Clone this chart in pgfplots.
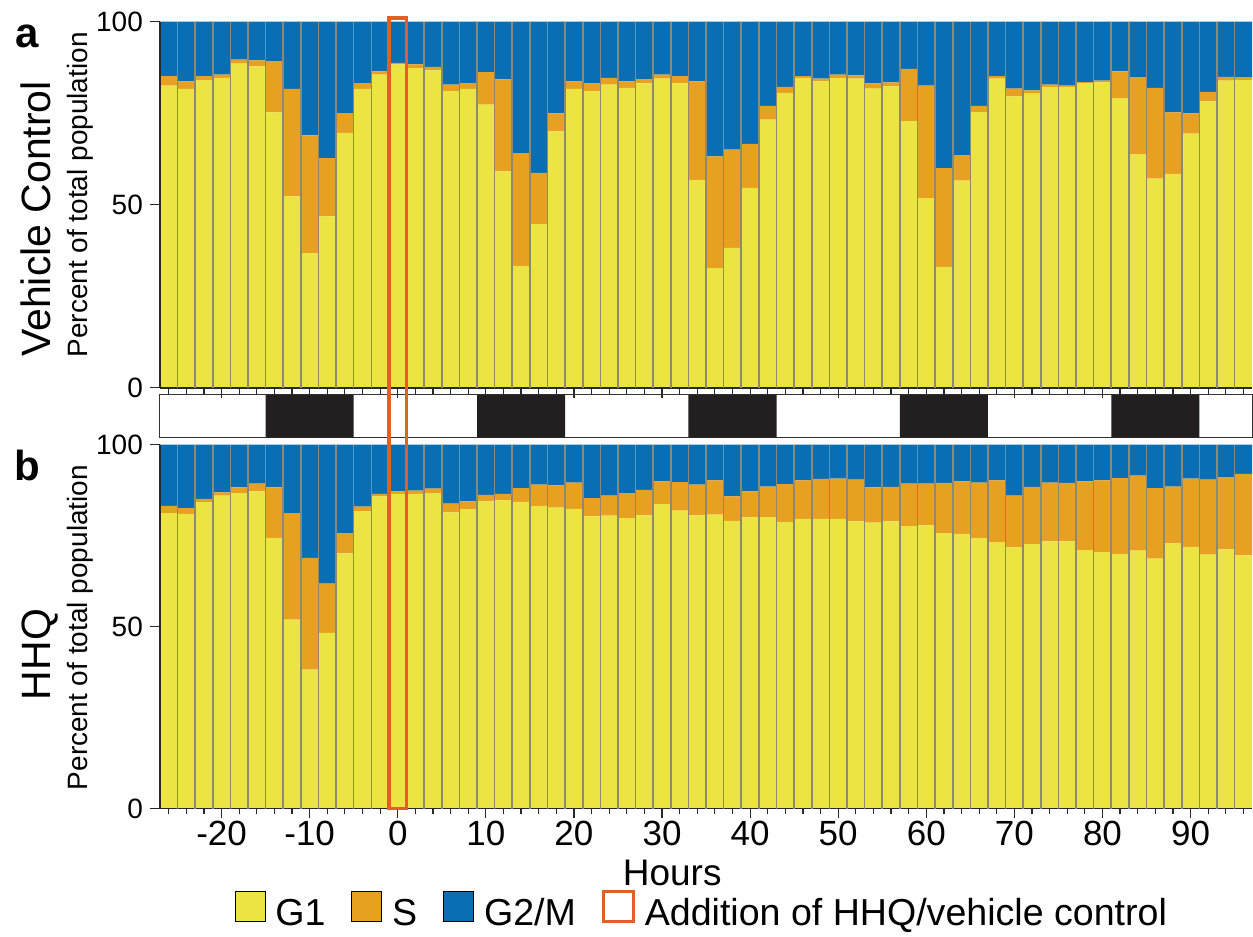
\documentclass[border=0pt]{standalone}
\usepackage{pgfplots}
\pgfplotsset{compat=1.18}
\usepackage{pgfplotstable}
\usepackage{fontspec}
\setmainfont{Liberation Sans}

\definecolor{cGone}{RGB}{236,228,66}
\definecolor{cS}{RGB}{232,160,34}
\definecolor{cGtwo}{RGB}{10,110,180}
\definecolor{cBox}{RGB}{224,96,40}
\definecolor{cSep}{RGB}{140,138,118}
\definecolor{cAx}{RGB}{40,40,40}
\definecolor{cDark}{RGB}{35,31,32}

% hours, G1, S, G2/M (percent of total population)
\pgfplotstableread{
h g1 s g2m
-26 82.5 2.6 14.9
-24 81.6 2.1 16.3
-22 84.0 1.1 14.9
-20 84.6 0.9 14.5
-18 88.5 1.1 10.4
-16 87.8 1.6 10.6
-14 75.2 14.0 10.8
-12 52.3 29.3 18.4
-10 36.8 32.1 31.1
-8 46.8 15.9 37.3
-6 69.6 5.4 25.0
-4 81.6 1.6 16.8
-2 85.5 0.9 13.6
0 88.3 0.4 11.3
2 87.3 1.0 11.7
4 86.7 0.9 12.4
6 81.0 1.8 17.2
8 81.6 1.6 16.8
10 77.3 8.9 13.8
12 59.1 25.1 15.8
14 33.3 30.8 35.9
16 44.7 14.0 41.3
18 70.0 4.9 25.1
20 81.6 2.1 16.3
22 81.0 2.2 16.8
24 82.8 1.8 15.4
26 81.9 1.8 16.3
28 83.1 1.2 15.7
30 84.4 1.1 14.5
32 83.2 1.9 14.9
34 56.8 26.9 16.3
36 32.7 30.5 36.8
38 38.2 26.8 35.0
40 54.6 12.0 33.4
42 73.2 3.8 23.0
44 80.5 1.7 17.8
46 84.6 0.5 14.9
48 83.7 0.7 15.6
50 84.6 0.9 14.5
52 84.4 0.9 14.7
54 81.7 1.4 16.9
56 82.3 1.1 16.6
58 72.8 14.3 12.9
60 51.8 30.7 17.5
62 33.0 27.0 40.0
64 56.6 6.9 36.5
66 75.3 1.7 23.0
68 84.4 0.7 14.9
70 79.6 2.1 18.3
72 80.3 0.9 18.8
74 82.2 0.6 17.2
76 82.2 0.3 17.5
78 83.2 0.3 16.5
80 83.4 0.5 16.1
82 79.1 7.3 13.6
84 63.8 21.0 15.2
86 57.1 24.8 18.1
88 58.4 16.8 24.8
90 69.4 5.5 25.1
92 78.2 2.6 19.2
94 83.9 1.0 15.1
96 84.0 0.8 15.2
}\vehicle

\pgfplotstableread{
h g1 s g2m
-26 81.2 2.0 16.8
-24 81.0 1.6 17.4
-22 84.2 0.9 14.9
-20 86.0 0.9 13.1
-18 86.7 1.6 11.7
-16 87.2 2.1 10.7
-14 74.4 13.9 11.7
-12 51.9 29.3 18.8
-10 38.2 30.7 31.1
-8 48.3 13.5 38.2
-6 70.1 5.6 24.3
-4 81.7 1.3 17.0
-2 85.8 0.7 13.5
0 86.5 0.7 12.8
2 86.5 0.9 12.6
4 86.7 1.2 12.1
6 81.4 2.4 16.2
8 82.3 2.1 15.6
10 84.4 1.8 13.8
12 84.7 1.8 13.5
14 84.3 3.8 11.9
16 83.2 5.8 11.0
18 82.7 6.1 11.2
20 82.4 7.2 10.4
22 80.3 5.0 14.7
24 80.5 5.5 14.0
26 79.8 6.9 13.3
28 80.6 7.0 12.4
30 83.7 6.2 10.1
32 81.9 7.8 10.3
34 80.6 8.4 11.0
36 80.8 9.4 9.8
38 79.1 6.7 14.2
40 80.0 7.2 12.8
42 80.1 8.4 11.5
44 78.8 10.4 10.8
46 79.6 10.6 9.8
48 79.6 11.0 9.4
50 79.6 11.1 9.3
52 78.9 11.5 9.6
54 78.6 9.7 11.7
56 78.9 9.5 11.6
58 77.6 11.7 10.7
60 77.8 11.5 10.7
62 75.7 13.8 10.5
64 75.5 14.4 10.1
66 74.4 15.2 10.4
68 73.2 17.0 9.8
70 71.8 14.2 14.0
72 72.7 15.7 11.6
74 73.4 16.2 10.4
76 73.4 16.1 10.5
78 71.0 18.9 10.1
80 70.5 19.7 9.8
82 70.0 20.8 9.2
84 70.9 20.6 8.5
86 68.7 19.4 11.9
88 72.9 15.6 11.5
90 71.9 18.8 9.3
92 69.8 20.6 9.6
94 71.2 19.9 8.9
96 69.6 22.4 8.0
}\hhq

\pgfplotsset{
  panel/.style={
    scale only axis, width=546.5pt, anchor=south west,
    xmin=-27, xmax=97, ymin=0, ymax=100,
    ybar stacked, bar width=2,
    axis x line*=bottom, axis y line*=left,
    axis line style={cAx, line width=0.8pt},
    tick style={cAx, line width=0.6pt},
    tick align=outside,
    major tick length=5pt, minor tick length=3pt,
    xtick={-20,-10,...,90}, minor xtick={-26,-24,...,96},
    ytick={0,50,100},
    extra x ticks={-25,-23,...,95},
    extra x tick labels={},
    extra x tick style={grid=major, major grid style={cSep, line width=0.8pt}, major tick length=0pt},
    axis on top,
    /pgf/number format/assume math mode=true,
    yticklabel style={font=\fontsize{14}{16}\selectfont},
    xticklabel style={font=\fontsize{17.5}{19}\selectfont, inner sep=1pt},
  },
  sq/.style={legend image code/.code={\draw[##1] (0pt,-4pt) rectangle (15pt,11pt);}},
}

\begin{document}
\begin{tikzpicture}
\path (0,0) rectangle (626.5pt,-465pt);

% a: vehicle control
\begin{axis}[panel, at={(80pt,-194pt)}, height=183.2pt, xticklabels={}]
\addplot[fill=cGone, draw=none] table[x=h, y=g1] {\vehicle};
\addplot[fill=cS, draw=none] table[x=h, y=s] {\vehicle};
\addplot[fill=cGtwo, draw=none] table[x=h, y=g2m] {\vehicle};
\coordinate (boxtop) at (axis cs:-1,101);
\end{axis}

% light / dark strip (1 = dark)
\begin{axis}[scale only axis, width=546.5pt, height=21.5pt, at={(80pt,-219pt)}, anchor=south west,
  xmin=-27, xmax=97, ymin=0, ymax=1, xtick=\empty, ytick=\empty,
  axis line style={black!80, line width=0.5pt}]
\addplot[const plot, fill=cDark, draw=none] coordinates {
(-27,0) (-15,1) (-5,0) (9,1) (19,0) (33,1) (43,0) (57,1) (67,0) (81,1) (91,0) (97,0)} \closedcycle;
\end{axis}

% b: HHQ
\begin{axis}[panel, at={(80pt,-404.5pt)}, height=182pt,
  xlabel={Hours},
  xlabel style={font=\fontsize{18.5}{20}\selectfont, inner sep=0pt, at={(axis description cs:0.469,-0.176)}, anchor=center},
  legend style={draw=none, fill=none, font=\fontsize{18.8}{21}\selectfont,
    legend columns=-1, at={(0.497,-0.283)}, anchor=center,
    /tikz/every odd column/.append style={column sep=3pt},
    /tikz/every even column/.append style={column sep=11pt}},
  ]
\addplot[fill=cGone, draw=none, sq] table[x=h, y=g1] {\hhq};
\addplot[fill=cS, draw=none, sq] table[x=h, y=s] {\hhq};
\addplot[fill=cGtwo, draw=none, sq] table[x=h, y=g2m] {\hhq};
\addlegendimage{sq, draw=cBox, fill=white, line width=1.5pt}
\legend{G1, S, G2/M, Addition of HHQ/vehicle control}
\coordinate (boxbot) at (axis cs:1,0);
\end{axis}

\draw[cBox, line width=1.8pt] (boxtop) rectangle (boxbot);

\node[font=\bfseries\fontsize{21}{23}\selectfont] at (13.5pt,-18pt) {a};
\node[font=\bfseries\fontsize{21}{23}\selectfont] at (13.5pt,-233pt) {b};
\node[rotate=90, anchor=base, font=\fontsize{20.5}{23}\selectfont] at (25.5pt,-109.5pt) {Vehicle Control};
\node[rotate=90, anchor=base, font=\fontsize{20.5}{23}\selectfont] at (25.5pt,-327.5pt) {HHQ};
\node[rotate=90, anchor=base, font=\fontsize{14}{16}\selectfont] at (44pt,-97.5pt) {Percent of total population};
\node[rotate=90, anchor=base, font=\fontsize{14}{16}\selectfont] at (44pt,-314pt) {Percent of total population};
\end{tikzpicture}
\end{document}
